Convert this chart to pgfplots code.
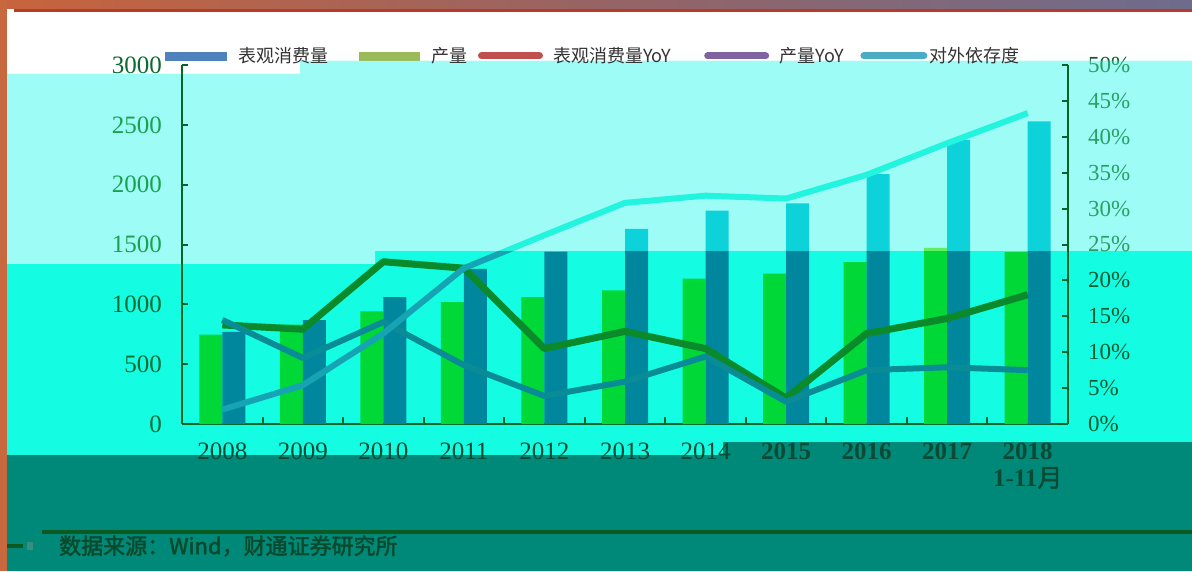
\documentclass[border=0pt]{standalone}
\usepackage{fontspec}
\setmainfont{Liberation Serif}
\newfontfamily\cjk{Noto Sans CJK SC}
\newfontfamily\cjkb{Noto Sans CJK SC}[FakeBold=2]
\usepackage{pgfplots}
\pgfplotsset{compat=1.18}
\usepackage{pgfplotstable}

\pgfplotstableread{
x prod cons cyoy pyoy dep
0 747 769 13.8 14.5 2.0
1 830 867 13.2 9.2 5.4
2 942 1061 22.6 14.2 12.6
3 1019 1297 21.7 8.2 21.7
4 1061 1440 10.5 3.9 26.3
5 1117 1631 12.9 5.9 30.8
6 1214 1783 10.5 9.4 31.8
7 1256 1844 3.6 3.1 31.4
8 1353 2089 12.6 7.5 34.7
9 1472 2372 14.7 7.9 39.1
10 1436 2528 18.0 7.5 43.3
}\datatable

\definecolor{bgA}{HTML}{9EFCF7}
\definecolor{bgB}{HTML}{14FDE3}
\definecolor{bgC}{HTML}{008878}
\definecolor{topL}{HTML}{C8643C}
\definecolor{topM}{HTML}{966464}
\definecolor{topR}{HTML}{6E6C8C}
\definecolor{topLine}{HTML}{B83A28}
\definecolor{leftStrip}{HTML}{C8683E}
\definecolor{srcLine}{HTML}{0B5A22}
\definecolor{srcSq}{HTML}{3A8C7C}
\definecolor{srcText}{HTML}{0A4A2C}
\definecolor{lgBlue}{HTML}{4F81BD}
\definecolor{lgOlive}{HTML}{9BBB59}
\definecolor{lgRed}{HTML}{C0504D}
\definecolor{lgPurple}{HTML}{8064A2}
\definecolor{lgTeal}{HTML}{4BACC6}
\definecolor{lgText}{HTML}{333333}
\definecolor{cAxis}{HTML}{0A6428}
\definecolor{cXLab}{HTML}{0C4A34}
% base (region B) colours
\definecolor{cBarG}{HTML}{00D838}
\definecolor{cBarT}{HTML}{00879E}
\definecolor{cLineG}{HTML}{0A8A2A}
\definecolor{cLineT}{HTML}{0A8C96}
\definecolor{cLineC}{HTML}{16A4B4}
\definecolor{cLab}{HTML}{0A6A30}
\definecolor{cLabR}{HTML}{0A5A30}

\newcommand\drawchart{%
\begin{axis}[
  at={(182pt,147pt)}, anchor=south west,
  scale only axis, width=886pt, height=359pt,
  xmin=-0.5, xmax=10.5, ymin=0, ymax=3000,
  axis x line*=bottom, axis y line*=left,
  axis line style={cAxis, line width=2.2pt},
  tick style={cAxis, line width=2pt},
  tick align=inside,
  xtick={0,...,10},
  xticklabels={2008,2009,2010,2011,2012,2013,2014,\textbf{2015},\textbf{2016},\textbf{2017},{\textbf{2018}\\\textbf{1-11}{\cjkb 月}}},
  major x tick style={draw=none},
  minor xtick={0.5,1.5,...,9.5},
  minor tick length=7pt,
  major tick length=6pt,
  ytick={0,500,...,3000},
  /pgf/number format/assume math mode=true,
  /pgf/number format/1000 sep={},
  yticklabel style={font=\fontsize{25}{25}\selectfont, text=cLab, inner sep=0pt, xshift=-20pt},
  xticklabel style={font=\fontsize{25}{27}\selectfont, text=cXLab, inner sep=0pt, yshift=-19pt, align=center},
]
\addplot[ybar, bar width=23pt, bar shift=-11.5pt, fill=cBarG, draw=none] table[x=x,y=prod]{\datatable};
\addplot[ybar, bar width=23pt, bar shift=11.5pt, fill=cBarT, draw=none] table[x=x,y=cons]{\datatable};
\end{axis}
\begin{axis}[
  at={(182pt,147pt)}, anchor=south west,
  scale only axis, width=886pt, height=359pt,
  xmin=-0.5, xmax=10.5, ymin=0, ymax=50,
  axis y line*=right, axis x line=none,
  axis line style={cAxis, line width=2.2pt},
  tick style={cAxis, line width=2pt},
  tick align=inside, major tick length=6pt,
  ytick={0,5,...,50},
  /pgf/number format/assume math mode=true,
  yticklabel={\pgfmathprintnumber{\tick}\%},
  yticklabel style={font=\fontsize{23}{23}\selectfont, text=cLabR, inner sep=0pt, xshift=20pt},
  legend columns=5, legend cell align=left,
  legend style={draw=none, fill=none, inner xsep=0pt, inner ysep=0pt, column sep=0pt,
    nodes={inner sep=0pt, text=lgText}, font=\fontsize{18}{18}\selectfont,
    at={(-0.01919,1.0251)}, anchor=west},
]
\addlegendimage{legend image code/.code={\fill[lgBlue] (0pt,-4pt) rectangle (61pt,4pt); \path (73pt,0pt);}}
\addlegendentry{\makebox[120pt][l]{\cjk 表观消费量}}
\addlegendimage{legend image code/.code={\fill[lgOlive] (0pt,-4pt) rectangle (60pt,4pt); \path (73pt,0pt);}}
\addlegendentry{\makebox[46pt][l]{\cjk 产量}}
\addlegendimage{legend image code/.code={\draw[lgRed, line width=7pt, line cap=round] (3.5pt,0pt) -- (61.5pt,0pt); \path (75pt,0pt);}}
\addlegendentry{\makebox[151pt][l]{\cjk 表观消费量YoY}}
\addlegendimage{legend image code/.code={\draw[lgPurple, line width=7pt, line cap=round] (3.5pt,0pt) -- (61.5pt,0pt); \path (75pt,0pt);}}
\addlegendentry{\makebox[81pt][l]{\cjk 产量YoY}}
\addlegendimage{legend image code/.code={\draw[lgTeal, line width=7pt, line cap=round] (3.5pt,0pt) -- (63.5pt,0pt); \path (69pt,0pt);}}
\addlegendentry{\makebox[88pt][l]{\cjk 对外依存度}}
\addplot[cLineG, line width=7pt, line join=round, forget plot] table[x=x,y=cyoy]{\datatable};
\addplot[cLineT, line width=6pt, line join=round, forget plot] table[x=x,y=pyoy]{\datatable};
\addplot[cLineC, line width=6pt, line join=round, forget plot] table[x=x,y=dep]{\datatable};
\end{axis}}

\begin{document}
\begin{tikzpicture}[x=1pt,y=1pt]
% backgrounds
\fill[white] (0,0) rectangle (1192,571);
\fill[bgA] (7,497) -- (300,497) -- (300,510) -- (1192,510) -- (1192,320) -- (375,320) -- (375,307) -- (7,307) -- cycle;
\fill[bgB] (7,307) -- (375,307) -- (375,320) -- (1192,320) -- (1192,129) -- (723,129) -- (723,116) -- (7,116) -- cycle;
\fill[bgC] (7,116) -- (723,116) -- (723,129) -- (1192,129) -- (1192,0) -- (7,0) -- cycle;
\shade[left color=topL, right color=topR, middle color=topM] (0,562) rectangle (1192,571);
\fill[topLine] (14,559) rectangle (1192,562);
\fill[leftStrip] (0,0) rectangle (7,571);
% source
\draw[srcLine, line width=4pt] (42,39) -- (1192,39);
\draw[srcLine, line width=4pt] (7,25) -- (23,25);
\fill[srcSq] (27,21) rectangle (33,29);
\node[anchor=west, inner sep=0pt, text=srcText] at (59,25) {\cjkb\fontsize{22}{22}\selectfont 数据来源：Wind，财通证券研究所};
% base chart
\drawchart
% region A overlay
\begin{scope}
\clip (7,497) -- (300,497) -- (300,510) -- (1192,510) -- (1192,320) -- (375,320) -- (375,307) -- (7,307) -- cycle;
\fill[bgA] (0,0) rectangle (1192,571);
\definecolor{cBarG}{HTML}{5EF05E}
\definecolor{cBarT}{HTML}{0ED2DA}
\definecolor{cLineC}{HTML}{22F4DE}
\definecolor{cLab}{HTML}{1AA050}
\definecolor{cLabR}{HTML}{28A064}
\drawchart
\end{scope}
\pgfresetboundingbox
\useasboundingbox (0,0) rectangle (1192,571);
\end{tikzpicture}
\end{document}
